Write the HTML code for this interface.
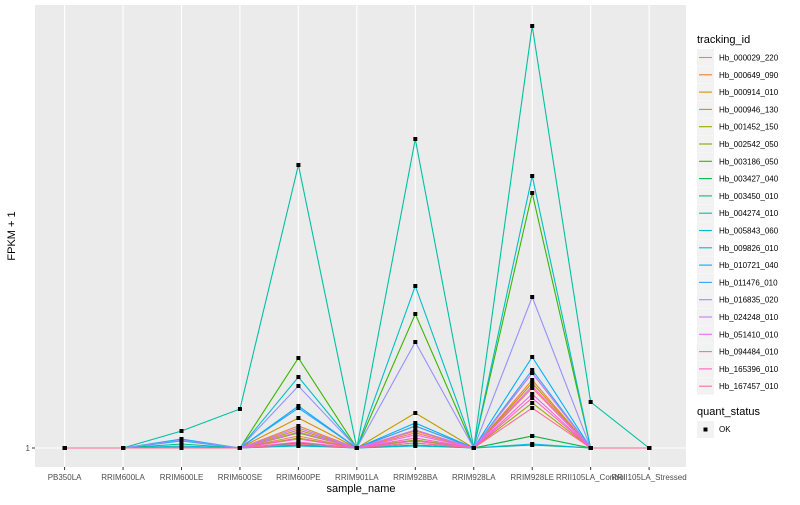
<!DOCTYPE html>
<html><head><meta charset="utf-8"><style>
body{margin:0;background:#fff;font-family:"Liberation Sans",sans-serif}
svg text{font-family:"Liberation Sans",sans-serif}
</style></head><body>
<svg id="chart" width="800" height="500" xmlns="http://www.w3.org/2000/svg">
<rect x="0" y="0" width="800" height="500" fill="#fff"/>
<rect x="35" y="5" width="651" height="462" fill="#EBEBEB"/>
<g id="grid"></g><g id="lines"></g><g id="points"></g><g id="xticks"></g>
<text x="30" y="451" font-size="8" fill="#4D4D4D" text-anchor="end">1</text>
<line x1="32" y1="448" x2="35" y2="448" stroke="#333" stroke-width="1"/>
<text x="361" y="492" font-size="11" text-anchor="middle" fill="#000">sample_name</text>
<text x="0" y="0" font-size="11" text-anchor="middle" fill="#000" transform="translate(15,236) rotate(-90)">FPKM + 1</text>
<g id="legend"></g>
</svg>
<script>
const categories=["PB350LA","RRIM600LA","RRIM600LE","RRIM600SE","RRIM600PE","RRIM901LA","RRIM928BA","RRIM928LA","RRIM928LE","RRII105LA_Control","RRII105LA_Stressed"];
const seriesNames=["Hb_000029_220","Hb_000649_090","Hb_000914_010","Hb_000946_130","Hb_001452_150","Hb_002542_050","Hb_003186_050","Hb_003427_040","Hb_003450_010","Hb_004274_010","Hb_005843_060","Hb_009826_010","Hb_010721_040","Hb_011476_010","Hb_016835_020","Hb_024248_010","Hb_051410_010","Hb_094484_010","Hb_165396_010","Hb_167457_010"];
const s0=[1,1,1.1,1,2.2,1,2.5,1,7.0,1,1];
const s1=[1,1,1,1,3.2,1,2.7,1,7.8,1,1];
const s2=[1,1,1,1,4.0,1,3.2,1,8.5,1,1];
const s3=[1,1,1,1,2.8,1,4.5,1,7.5,1,1];
const s4=[1,1,1,1,2.0,1,2.0,1,5.5,1,1];
const s5=[1,1,1,1,2.5,1,1.8,1,2.2,1,1];
const s6=[1,1,1,1,10.0,1,14.4,1,26.5,1,1];
const s7=[1,1,1,1,1.3,1,1.5,1,2.2,1,1];
const s8=[1,1,1.4,1,1.5,1,1.3,1,1.3,1,1];
const s9=[1,1,2.7,4.9,29.3,1,31.9,1,43.2,5.6,1];
const s10=[1,1,1,1,8.1,1,17.2,1,28.2,1,1];
const s11=[1,1,1.2,1,1.2,1,1.2,1,1.4,1,1];
const s12=[1,1,1.9,1,5.2,1,3.5,1,10.1,1,1];
const s13=[1,1,1.7,1,5.0,1,3.2,1,8.8,1,1];
const s14=[1,1,1.8,1,7.2,1,11.6,1,16.1,1,1];
const s15=[1,1,1,1,3.0,1,2.8,1,8.5,1,1];
const s16=[1,1,1,1,2.6,1,2.3,1,7.2,1,1];
const s17=[1,1,1,1,1.9,1,2.0,1,6.4,1,1];
const s18=[1,1,1,1,1.6,1,1.7,1,6.0,1,1];
const s19=[1,1,1,1,1.4,1,1.5,1,5.0,1,1];
const seriesValues=[s0,s1,s2,s3,s4,s5,s6,s7,s8,s9,s10,s11,s12,s13,s14,s15,s16,s17,s18,s19];
const colors=["#F8766D","#EA8331","#D89000","#C09B00","#A3A500","#7CAE00","#39B600","#00BB4E","#00BF7D","#00C1A3","#00BFC4","#00BAE0","#00B0F6","#35A2FF","#9590FF","#C77CFF","#E76BF3","#FA62DB","#FF62BC","#FF6C91"];
const NS="http://www.w3.org/2000/svg";
function xs(i){return 64.6+i*58.45;}
function ys(v){return 448-(v-1)*10;}
function mk(tag,attrs,parent){const e=document.createElementNS(NS,tag);for(const k in attrs)e.setAttribute(k,attrs[k]);parent.appendChild(e);return e;}
const grid=document.getElementById('grid');
let g=mk('line',{x1:35,x2:686,y1:448,y2:448,stroke:'#fff','stroke-width':1.1},grid);


categories.forEach((c,i)=>{
  const l=mk('line',{x1:xs(i),x2:xs(i),y1:5,y2:467,stroke:'#fff','stroke-width':1.1},grid);
  
  
  const tk=mk('line',{x1:xs(i),x2:xs(i),y1:467,y2:470,stroke:'#333'},document.getElementById('xticks'));
  const t=mk('text',{x:xs(i),y:480,'font-size':8,fill:'#4D4D4D','text-anchor':'middle'},document.getElementById('xticks'));
  t.textContent=c;
  
  
});
const lines=document.getElementById('lines'),pts=document.getElementById('points');
seriesValues.forEach((vals,si)=>{
  const p=mk('polyline',{points:vals.map((v,i)=>xs(i)+','+ys(v)).join(' '),fill:'none',stroke:colors[si],'stroke-width':1.1},lines);
  
  
  vals.forEach((v,i)=>{
    const r=mk('rect',{x:xs(i)-2,y:ys(v)-2,width:4,height:4,fill:'#000'},pts);
    
    
  });
});
const lg=document.getElementById('legend');
let tt=mk('text',{x:697,y:43,'font-size':11,fill:'#000'},lg);tt.textContent='tracking_id';


seriesNames.forEach((n,i)=>{
  const y=49+i*17.3;
  const b=mk('rect',{x:697,y:y,width:17,height:17,fill:'#F2F2F2'},lg);
  
  
  mk('line',{x1:699,x2:712,y1:y+8.5,y2:y+8.5,stroke:colors[i],'stroke-width':1.1},lg);
  const t=mk('text',{x:719,y:y+11.5,'font-size':8,fill:'#000'},lg);t.textContent=n;
  
  
});
let qt=mk('text',{x:697,y:415,'font-size':11,fill:'#000'},lg);qt.textContent='quant_status';


mk('rect',{x:697,y:421,width:17,height:17,fill:'#F2F2F2'},lg);
mk('rect',{x:703.5,y:427.5,width:4,height:4,fill:'#000'},lg);
let ok=mk('text',{x:719,y:432,'font-size':8,fill:'#000'},lg);ok.textContent='OK';


</script>
</body></html>
